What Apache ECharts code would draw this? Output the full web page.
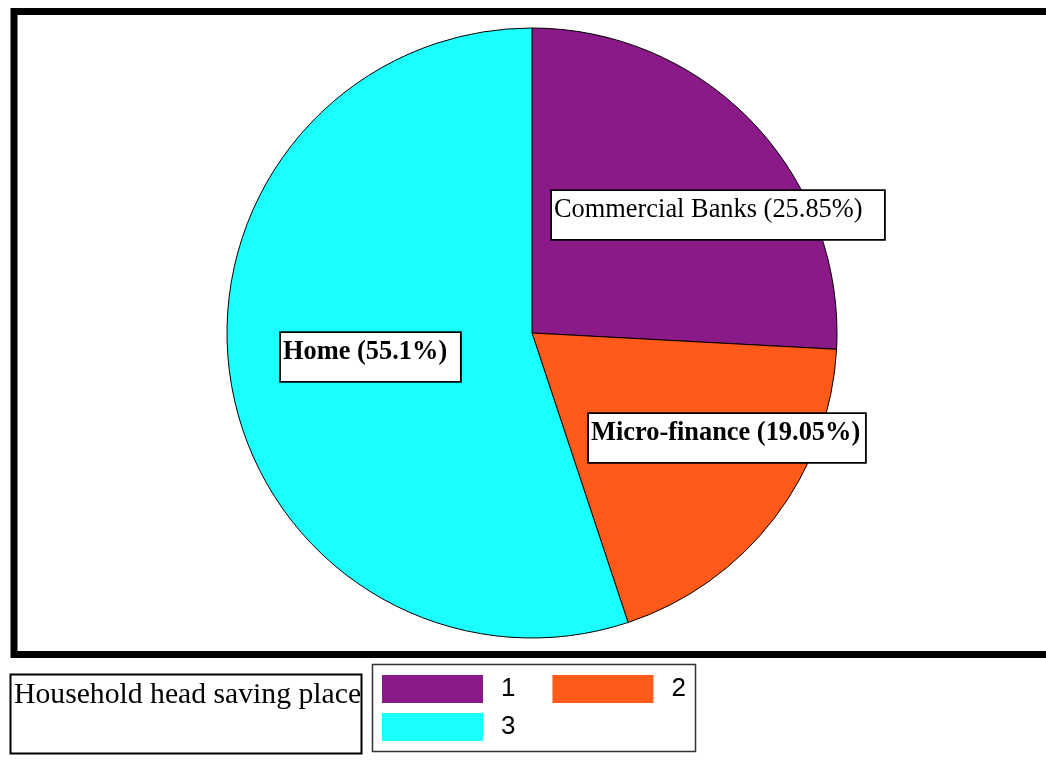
<!DOCTYPE html>
<html>
<head>
<meta charset="utf-8">
<script src="https://cdn.jsdelivr.net/npm/echarts@6/dist/echarts.min.js"></script>
<style>
  html, body { margin: 0; padding: 0; background: #fff; }
  #chart { width: 1046px; height: 767px; }
</style>
</head>
<body>
<div id="chart"></div>
<script>
// legend keys, slice labels and shares (%)
const categories = ["1", "2", "3"];
const labelTexts = ["Commercial Banks (25.85%)", "Micro-finance (19.05%)", "Home (55.1%)"];
const shares = [25.85, 19.05, 55.1];
const legendTitle = "Household head saving place";

const colors = ["#8B1A89", "#FF5A1A", "#1AFFFF"];
const weights = ["normal", "bold", "bold"];
// label box [left, top, width, height]
const boxes = [
    [552, 191, 332, 48],
    [589, 414, 276, 48],
    [281, 333, 179, 48]
];

const serif = "'Liberation Serif', 'Times New Roman', serif";
const sans = "'Liberation Sans', Arial, sans-serif";

const chart = echarts.init(document.getElementById("chart"), null, { renderer: "canvas" });

// legend rows share the same look
const legendBase = {
    padding: 0,
    orient: "horizontal",
    icon: "rect",
    itemWidth: 101,
    itemHeight: 28,
    itemGap: 37,
    selectedMode: false,
    itemStyle: { borderWidth: 0 },
    textStyle: { fontFamily: sans, fontSize: 26, color: "#000", padding: [0, 0, 0, 13] }
};

chart.setOption({
    animation: false,
    backgroundColor: "#fff",
    title: {
        text: legendTitle,
        left: 14,
        top: 680,
        padding: 0,
        textStyle: { fontFamily: serif, fontSize: 29.7, fontWeight: "normal", color: "#000" }
    },
    legend: [
        { ...legendBase, data: categories.slice(0, 2), left: 382, top: 675 },
        { ...legendBase, data: categories.slice(2), left: 382, top: 713 }
    ],
    graphic: [
        {
            type: "rect",
            shape: { x: 14, y: 11.5, width: 1100, height: 643 },
            style: { fill: null, stroke: "#000", lineWidth: 7 },
            z: 10
        },
        {
            type: "rect",
            shape: { x: 10.5, y: 674.5, width: 351, height: 79 },
            style: { fill: null, stroke: "#000", lineWidth: 2 }
        },
        {
            type: "rect",
            shape: { x: 372.5, y: 664.5, width: 323, height: 87 },
            style: { fill: null, stroke: "#333", lineWidth: 1.5 }
        }
    ],
    series: [
        {
            type: "pie",
            center: [532, 333],
            radius: 305,
            startAngle: 90,
            clockwise: true,
            avoidLabelOverlap: false,
            emphasis: { disabled: true },
            itemStyle: { borderColor: "#000", borderWidth: 1 },
            labelLine: { show: false },
            label: {
                show: true,
                position: "inside",
                formatter: (p) => labelTexts[p.dataIndex],
                fontFamily: serif,
                fontSize: 26.4,
                lineHeight: 28,
                color: "#000",
                backgroundColor: "#fff",
                borderColor: "#000",
                borderWidth: 1.8,
                align: "left",
                verticalAlign: "top"
            },
            labelLayout: (p) => {
                const b = boxes[p.dataIndex];
                return { x: b[0], y: b[1], align: "left", verticalAlign: "top" };
            },
            data: categories.map((c, i) => ({
                name: c,
                value: shares[i],
                itemStyle: { color: colors[i] },
                label: {
                    fontWeight: weights[i],
                    width: boxes[i][2] - 4,
                    height: boxes[i][3] - 5,
                    padding: [5, 2, 0, 2]
                }
            }))
        }
    ]
});
</script>
</body>
</html>
